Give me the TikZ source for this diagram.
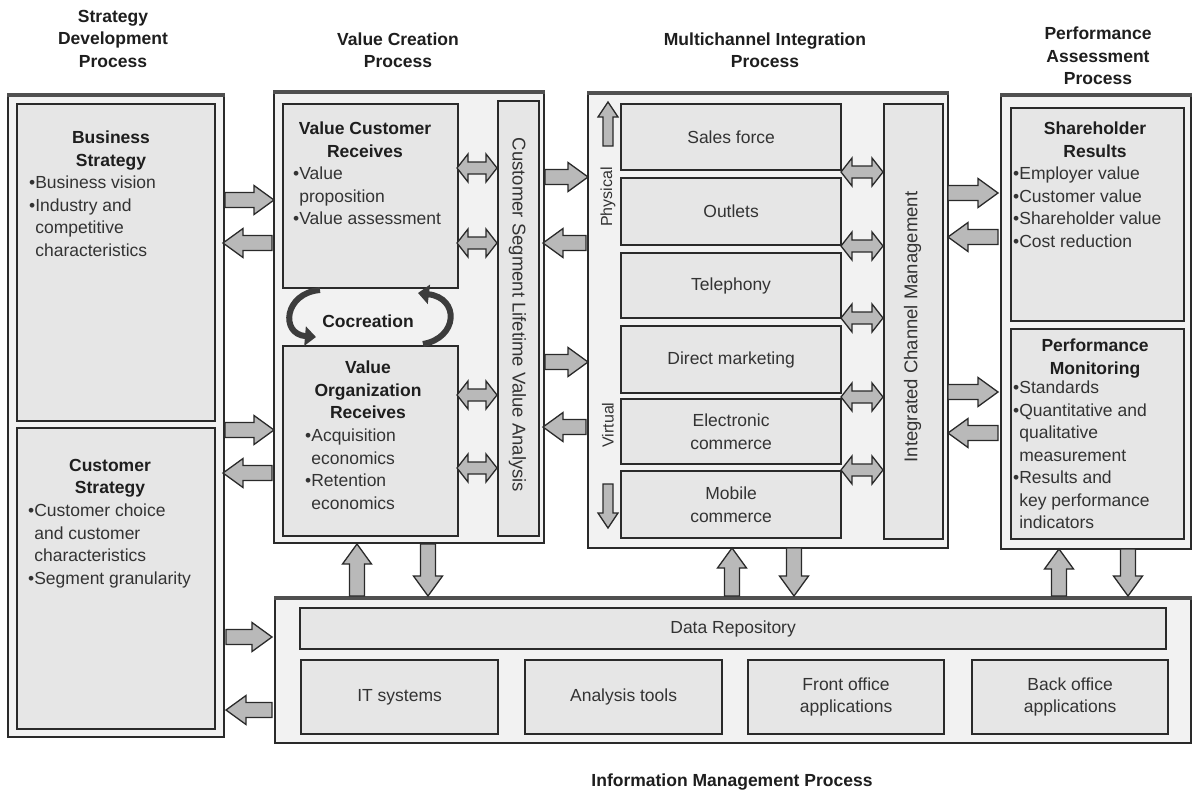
\documentclass[tikz,border=0pt]{standalone}
\usepackage{fontspec}
\setmainfont{Liberation Sans}
\usetikzlibrary{arrows.meta}
\definecolor{outerfill}{HTML}{F2F2F2}
\definecolor{innerfill}{HTML}{E6E6E6}
\definecolor{arrfill}{HTML}{B9B9B9}
\definecolor{lin}{HTML}{2A2A2A}
\definecolor{topl}{HTML}{505050}
\definecolor{txt}{HTML}{333333}
\definecolor{hdr}{HTML}{1E1E1E}
\definecolor{coarr}{HTML}{3C3C3C}
\newcommand\mkbox[7]{\node[#6, minimum width={(#4)-(#2)}, minimum height={(#5)-(#3)}] (#1) at (#2,#3) {#7};}
\newcommand\ph{\phantom{•}}
\begin{document}
\begin{tikzpicture}[x=1pt,y=-1pt,
  outerbox/.style={draw=lin, line width=2pt, fill=outerfill, inner sep=0pt, anchor=north west},
  innerbox/.style={draw=lin, line width=2.2pt, fill=innerfill, inner sep=0pt, anchor=north west, align=center, text=txt, font=\fontsize{17.5}{22.5}\selectfont},
  topedge/.style={draw=topl, line width=4pt},
  arrowst/.style={draw=lin, line width=1.3pt, fill=arrfill, line join=miter},
  body/.style={font=\fontsize{17.5}{22.5}\selectfont, text=txt, inner sep=0pt},
  bodyb/.style={font=\fontsize{17.5}{22.5}\selectfont\bfseries, text=hdr, inner sep=0pt},
  vert/.style={font=\fontsize{18.5}{22}\selectfont, text=txt, inner sep=0pt},
  coarrow/.style={draw=coarr, line width=6pt, -{Triangle[length=11pt,width=19pt]}},
  pics/sarr/.style={code={\draw[arrowst] (0,-7.5) -- ({#1-20},-7.5) -- ({#1-20},-14.5) -- (#1,0) -- ({#1-20},14.5) -- ({#1-20},7.5) -- (0,7.5) -- cycle;}},
  pics/darr/.style={code={\draw[arrowst] (0,0) -- (11,-14) -- (11,-6) -- ({#1-11},-6) -- ({#1-11},-14) -- (#1,0) -- ({#1-11},14) -- ({#1-11},6) -- (11,6) -- (11,14) -- cycle;}},
  pics/smarr/.style={code={\draw[arrowst] (0,-5) -- ({#1-15},-5) -- ({#1-15},-10) -- (#1,0) -- ({#1-15},10) -- ({#1-15},5) -- (0,5) -- cycle;}}
]
\fill[white] (0,0) rectangle (1192,796);
\useasboundingbox (0,0) rectangle (1192,796);

% headers
\node[bodyb, align=center] (h1) at (113,38.5) {Strategy\\Development\\Process};
\node[bodyb, align=center] (h2) at (398,50) {Value Creation\\Process};
\node[bodyb, align=center] (h3) at (765,50) {Multichannel Integration\\Process};
\node[bodyb, align=center] (h4) at (1098,56) {Performance\\Assessment\\Process};
\node[bodyb] (h5) at (732,782) {Information Management Process};

% outer containers
\mkbox{sdp}{7}{95}{223}{736}{outerbox}{}
\mkbox{vcp}{273}{92}{543}{542}{outerbox}{}
\mkbox{mcp}{587}{93}{947}{547}{outerbox}{}
\mkbox{pap}{1000}{95}{1190}{548}{outerbox}{}
\mkbox{imp}{274}{598}{1190}{742}{outerbox}{}
\foreach \bx in {sdp,vcp,mcp,pap,imp} { \draw[topedge] (\bx.north west) -- (\bx.north east); }

% strategy
\mkbox{bs}{16}{103}{214}{420}{innerbox}{}
\mkbox{cs}{16}{427}{214}{728}{innerbox}{}
\node[bodyb, align=center, anchor=north] (bsh) at (111,130.7) {Business\\Strategy};
\node[body, align=left, anchor=north west] (bsl) at (29,175.7) {•Business vision\\•Industry and\\\ph competitive\\\ph characteristics};
\node[bodyb, align=center, anchor=north] (csh) at (110,458.7) {Customer\\Strategy};
\node[body, align=left, anchor=north west] (csl) at (28,503.7) {•Customer choice\\\ph and customer\\\ph characteristics\\•Segment granularity};

% value creation
\mkbox{vcr}{282}{103}{457}{287}{innerbox}{}
\mkbox{vor}{282}{345}{457}{535}{innerbox}{}
\mkbox{cslva}{497}{100}{538}{535}{innerbox}{}
\node[bodyb, align=center, anchor=north] (vcrh) at (365,121.7) {Value Customer\\Receives};
\node[body, align=left, anchor=north west] (vcrl) at (293,166.7) {•Value\\\ph proposition\\•Value assessment};
\node[bodyb, align=center, anchor=north] (vorh) at (368,360.7) {Value\\Organization\\Receives};
\node[body, align=left, anchor=north west] (vorl) at (305,428.7) {•Acquisition\\\ph economics\\•Retention\\\ph economics};
\node[vert, rotate=-90] (cslvat) at (517.5,315) {Customer Segment Lifetime Value Analysis};
\node[bodyb] (coc) at (368,321) {Cocreation};
\draw[coarrow] (320,290) .. controls (284,293) and (280,334) .. (316,337);
\draw[coarrow] (423,344) .. controls (458,338) and (460,298) .. (418,293);

% multichannel
\mkbox{sf}{620}{103}{840}{169}{innerbox}{Sales force}
\mkbox{ou}{620}{177}{840}{244}{innerbox}{Outlets}
\mkbox{te}{620}{252}{840}{317}{innerbox}{Telephony}
\mkbox{dm}{620}{325}{840}{392}{innerbox}{Direct marketing}
\mkbox{ec}{620}{398}{840}{463}{innerbox}{Electronic\\commerce}
\mkbox{mc}{620}{470}{840}{537}{innerbox}{Mobile\\commerce}
\mkbox{icm}{883}{103}{942}{538}{innerbox}{}
\node[vert, rotate=90] (icmt) at (912.5,327) {Integrated Channel Management};
\node[body, rotate=90, font=\fontsize{16}{20}\selectfont] (phy) at (608,197) {Physical};
\node[body, rotate=90, font=\fontsize{16}{20}\selectfont] (vir) at (608,425) {Virtual};
\pic[rotate=90] at (608,146) {smarr=44};
\pic[rotate=-90] at (608,484) {smarr=44};

% performance
\mkbox{shr}{1010}{107}{1183}{320}{innerbox}{}
\mkbox{pm}{1010}{328}{1183}{538}{innerbox}{}
\node[bodyb, align=center, anchor=north] (shrh) at (1095,121.7) {Shareholder\\Results};
\node[body, align=left, anchor=north west] (shrl) at (1013,166.7) {•Employer value\\•Customer value\\•Shareholder value\\•Cost reduction};
\node[bodyb, align=center, anchor=north] (pmh) at (1095,338.7) {Performance\\Monitoring};
\node[body, align=left, anchor=north west] (pml) at (1013,380.7) {•Standards\\•Quantitative and\\\ph qualitative\\\ph measurement\\•Results and\\\ph key performance\\\ph indicators};

% information management
\mkbox{dr}{299}{607}{1165}{648}{innerbox}{Data Repository}
\mkbox{its}{300}{659}{497}{733}{innerbox}{IT systems}
\mkbox{at}{524}{659}{721}{733}{innerbox}{Analysis tools}
\mkbox{fo}{747}{659}{943}{733}{innerbox}{Front office\\applications}
\mkbox{bo}{971}{659}{1167}{733}{innerbox}{Back office\\applications}

% block arrows: strategy <-> value creation
\pic at (sdp.east |- 0,200) {sarr=49};
\pic[rotate=180] at (272,243) {sarr=49};
\pic at (sdp.east |- 0,430) {sarr=49};
\pic[rotate=180] at (272,473) {sarr=49};
% value creation <-> multichannel
\pic at (vcp.east |- 0,177) {sarr=43};
\pic[rotate=180] at (586,243) {sarr=43};
\pic at (vcp.east |- 0,362) {sarr=43};
\pic[rotate=180] at (586,427) {sarr=43};
% multichannel <-> performance
\pic at (948,193) {sarr=50};
\pic[rotate=180] at (998,237) {sarr=50};
\pic at (948,392) {sarr=50};
\pic[rotate=180] at (998,433) {sarr=50};
% strategy <-> information management
\pic at (226,637) {sarr=46};
\pic[rotate=180] at (272,710) {sarr=46};
% vertical arrows to/from information management
\pic[rotate=90] at (357,596) {sarr=52};
\pic[rotate=-90] at (428,544) {sarr=52};
\pic[rotate=90] at (732,596) {sarr=48};
\pic[rotate=-90] at (794,548) {sarr=48};
\pic[rotate=90] at (1059,596) {sarr=47};
\pic[rotate=-90] at (1128,549) {sarr=47};
% double arrows inside
\foreach \yy in {168,243,395,468} { \pic at (457,\yy) {darr=40}; }
\foreach \yy in {172,246,318,397,470} { \pic at (841,\yy) {darr=42}; }
\end{tikzpicture}
\end{document}
